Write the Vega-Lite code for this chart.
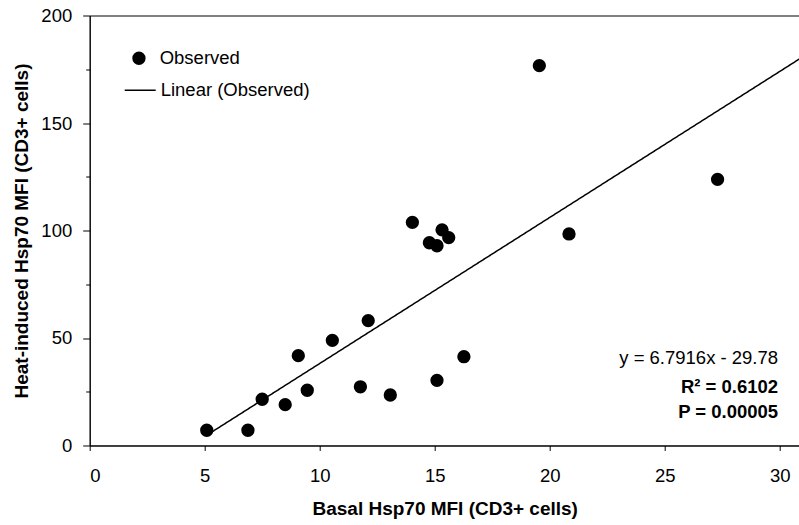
{
  "$schema": "https://vega.github.io/schema/vega-lite/v6.json",
  "autosize": "none",
  "width": 710,
  "height": 430,
  "padding": {"left": 89.7, "top": 15.5, "right": 0, "bottom": 79.5},
  "background": "white",
  "config": {
    "font": "Liberation Sans",
    "view": {"stroke": "black", "strokeWidth": 1},
    "axis": {"domainColor": "black", "tickColor": "black", "labelColor": "black", "titleColor": "black", "grid": false, "labelFont": "Liberation Sans", "titleFont": "Liberation Sans"},
    "legend": {"labelFontSize": 18.5, "labelColor": "black", "labelFont": "Liberation Sans", "padding": 0, "rowPadding": 0}
  },
  "datasets": {
    "observed": [
      {"basal": 5.09, "heat": 7.1, "series": "Observed"},
      {"basal": 6.88, "heat": 7.1, "series": "Observed"},
      {"basal": 7.5, "heat": 21.5, "series": "Observed"},
      {"basal": 8.5, "heat": 19.0, "series": "Observed"},
      {"basal": 9.07, "heat": 41.8, "series": "Observed"},
      {"basal": 9.46, "heat": 25.7, "series": "Observed"},
      {"basal": 10.55, "heat": 48.9, "series": "Observed"},
      {"basal": 11.77, "heat": 27.3, "series": "Observed"},
      {"basal": 12.11, "heat": 58.1, "series": "Observed"},
      {"basal": 13.07, "heat": 23.5, "series": "Observed"},
      {"basal": 14.03, "heat": 103.8, "series": "Observed"},
      {"basal": 14.77, "heat": 94.3, "series": "Observed"},
      {"basal": 15.1, "heat": 92.9, "series": "Observed"},
      {"basal": 15.32, "heat": 100.3, "series": "Observed"},
      {"basal": 15.61, "heat": 96.7, "series": "Observed"},
      {"basal": 15.1, "heat": 30.3, "series": "Observed"},
      {"basal": 16.27, "heat": 41.3, "series": "Observed"},
      {"basal": 19.55, "heat": 176.7, "series": "Observed"},
      {"basal": 20.84, "heat": 98.4, "series": "Observed"},
      {"basal": 27.3, "heat": 123.8, "series": "Observed"}
    ],
    "trend": [
      {"basal": 5.1, "heat": 4.86, "series": "Linear (Observed)"},
      {"basal": 30.87, "heat": 179.87, "series": "Linear (Observed)"}
    ],
    "notes": [
      {"basal": 29.93, "heat": 40.5, "text": "y = 6.7916x - 29.78", "bold": false},
      {"basal": 29.93, "heat": 27.4, "text": "R² = 0.6102", "bold": true},
      {"basal": 29.93, "heat": 15.5, "text": "P = 0.00005", "bold": true}
    ]
  },
  "encoding": {
    "x": {
      "field": "basal", "type": "quantitative",
      "scale": {"domain": [0, 30.87], "nice": false, "zero": false},
      "axis": {
        "title": "Basal Hsp70 MFI (CD3+ cells)",
        "values": [0, 5, 10, 15, 20, 25, 30],
        "tickSize": 5, "labelPadding": 16, "labelFontSize": 18.5,
        "titleFontSize": 19, "titleFontWeight": "bold",
        "titleBaseline": "alphabetic", "titleY": 69.5
      }
    },
    "y": {
      "field": "heat", "type": "quantitative",
      "scale": {"domain": [0, 200], "nice": false},
      "axis": {
        "title": "Heat-induced Hsp70 MFI (CD3+ cells)",
        "values": [0, 25, 50, 75, 100, 125, 150, 175, 200],
        "labelExpr": "datum.value % 50 === 0 ? datum.label : ''",
        "tickSize": {"condition": {"test": "datum.value % 50 === 0", "value": 7}, "value": 4},
        "labelPadding": 11, "labelFontSize": 18.5,
        "titleFontSize": 19, "titleFontWeight": "bold",
        "titleBaseline": "alphabetic", "titleX": -62.3, "titleAngle": -90
      }
    }
  },
  "layer": [
    {
      "data": {"name": "trend"},
      "mark": {"type": "line", "strokeWidth": 1.5, "color": "black", "opacity": 1},
      "encoding": {
        "strokeDash": {
          "field": "series", "type": "nominal",
          "scale": {"domain": ["Linear (Observed)"], "range": [[1, 0]]},
          "legend": {
            "title": null,
            "orient": "none", "legendX": 34, "legendY": 58.3,
            "symbolType": "stroke",
            "symbolSize": 961,
            "symbolStrokeWidth": 1.5,
            "symbolStrokeColor": "black",
            "labelOffset": 4
          }
        }
      }
    },
    {
      "data": {"name": "observed"},
      "mark": {"type": "point", "shape": "circle", "filled": true, "size": 177, "color": "black", "opacity": 1, "strokeWidth": 0},
      "encoding": {
        "shape": {
          "field": "series", "type": "nominal",
          "scale": {"domain": ["Observed"], "range": ["circle"]},
          "legend": {
            "title": null,
            "orient": "none", "legendX": 40, "legendY": 33.5,
            "symbolSize": 177,
            "symbolFillColor": "black",
            "symbolStrokeWidth": 0,
            "symbolOpacity": 1,
            "labelOffset": 11.5
          }
        }
      }
    },
    {
      "data": {"name": "notes"},
      "transform": [{"filter": "!datum.bold"}],
      "mark": {"type": "text", "align": "right", "baseline": "middle", "fontSize": 18.5, "color": "black", "font": "Liberation Sans"},
      "encoding": {"text": {"field": "text"}}
    },
    {
      "data": {"name": "notes"},
      "transform": [{"filter": "datum.bold"}],
      "mark": {"type": "text", "align": "right", "baseline": "middle", "fontSize": 18.5, "fontWeight": "bold", "color": "black", "font": "Liberation Sans"},
      "encoding": {"text": {"field": "text"}}
    }
  ]
}
